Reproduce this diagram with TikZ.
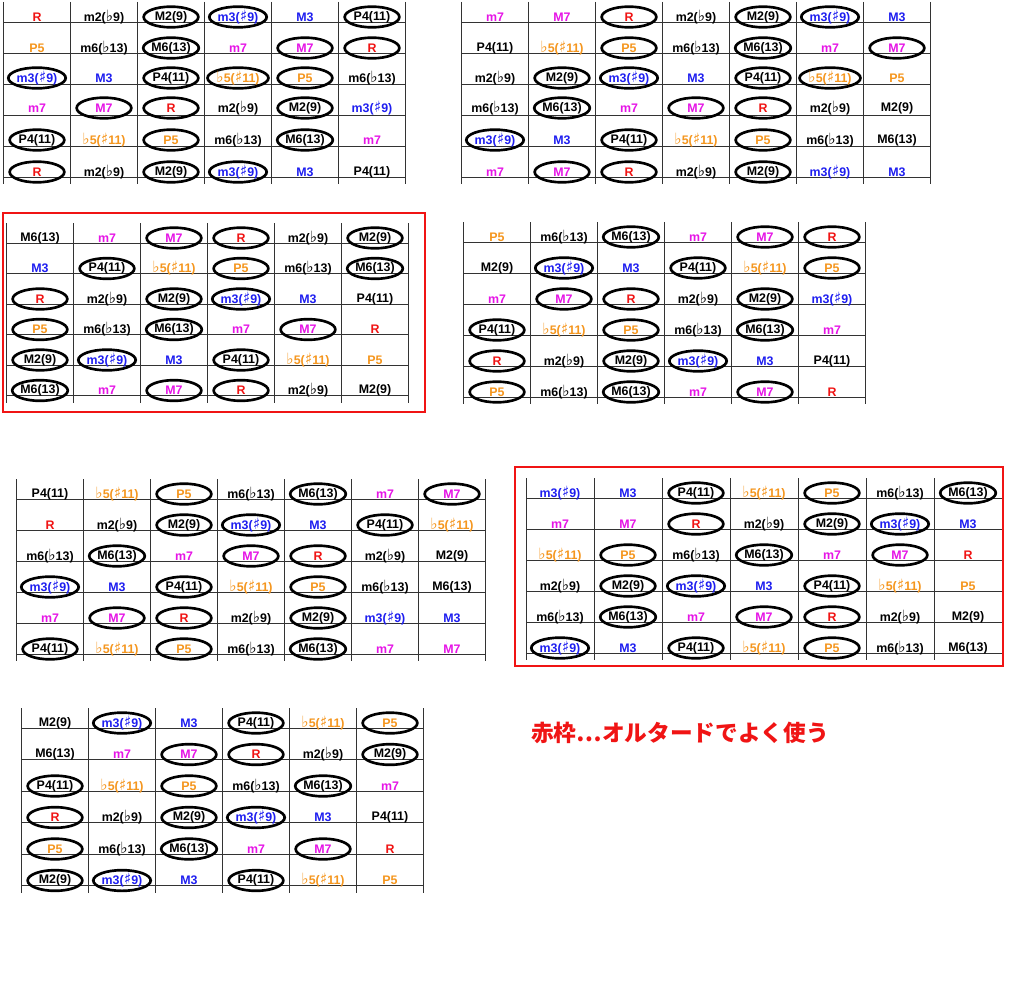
\documentclass[tikz,border=0pt]{standalone}
\usepackage{fontspec}
\setmainfont{Liberation Sans}
\newfontfamily\symf[Scale=1.25]{DejaVu Sans}
\newfontfamily\cjk{Noto Sans CJK JP}
\usetikzlibrary{shapes.geometric}
\newcommand\fl{{\symf ♭}}
\newcommand\sh{{\symf ♯}}
\newcommand\tmii{m2(\fl9)}
\newcommand\tMii{M2(9)}
\newcommand\tmiii{m3(\sh9)}
\newcommand\tMiii{M3}
\newcommand\tiv{P4(11)}
\newcommand\tbv{\fl5(\sh11)}
\newcommand\tv{P5}
\newcommand\tvi{m6(\fl13)}
\newcommand\tVI{M6(13)}
\newcommand\tvii{m7}
\newcommand\tVII{M7}
\definecolor{cR}{RGB}{240,20,20}
\definecolor{cB}{RGB}{30,30,240}
\definecolor{cO}{RGB}{245,150,30}
\definecolor{cM}{RGB}{230,20,230}
\tikzset{
 base/.style={font=\bfseries\fontsize{9.3}{10}\selectfont, inner sep=1pt},
 circ/.style={base, ellipse, draw=black, line width=2pt, minimum width=41pt, minimum height=15.5pt, inner sep=0pt},
 xr/.style={base,text=cR}, xk/.style={base,text=black}, xb/.style={base,text=cB}, xo/.style={base,text=cO}, xm/.style={base,text=cM},
 qr/.style={circ,text=cR}, qk/.style={circ,text=black}, qb/.style={circ,text=cB}, qo/.style={circ,text=cO}, qm/.style={circ,text=cM},
 gl/.style={draw=black!80, line width=0.5pt},
 redbox/.style={draw=cR, line width=2.2pt}
}
\newcommand\rowx[5]{\foreach[count=\i] \s/\t in {#5} {\node[\s] (#1-\i) at ({#3+(\i-1)*#4},#2) {\t};}}
\newcommand\glines[6]{% x0 dx n y0 dy top
 \foreach \k in {0,...,5} \draw[gl] ({#1-#2/2},{#4+\k*#5+5}) -- ({#1+(#3-0.5)*#2},{#4+\k*#5+5});
 \foreach \k in {0,...,#3} \draw[gl] ({#1+(\k-0.5)*#2},#6) -- ({#1+(\k-0.5)*#2},{#4+5*#5+12});}
\begin{document}
\begin{tikzpicture}[x=0.75pt,y=-0.75pt]
\useasboundingbox (0,0) rectangle (1024,988);
\fill[white] (0,0) rectangle (1024,988);
% G1
\glines{37}{67}{6}{17}{31}{2}
\rowx{a1}{17}{37}{67}{xr/R, xk/\tmii, qk/\tMii, qb/\tmiii, xb/\tMiii, qk/\tiv}
\rowx{a2}{48}{37}{67}{xo/\tv, xk/\tvi, qk/\tVI, xm/\tvii, qm/\tVII, qr/R}
\rowx{a3}{78}{37}{67}{qb/\tmiii, xb/\tMiii, qk/\tiv, qo/\tbv, qo/\tv, xk/\tvi}
\rowx{a4}{108}{37}{67}{xm/\tvii, qm/\tVII, qr/R, xk/\tmii, qk/\tMii, xb/\tmiii}
\rowx{a5}{140}{37}{67}{qk/\tiv, xo/\tbv, qo/\tv, xk/\tvi, qk/\tVI, xm/\tvii}
\rowx{a6}{172}{37}{67}{qr/R, xk/\tmii, qk/\tMii, qb/\tmiii, xb/\tMiii, xk/\tiv}
% G2
\glines{495}{67}{7}{17}{31}{2}
\rowx{b1}{17}{495}{67}{xm/\tvii, xm/\tVII, qr/R, xk/\tmii, qk/\tMii, qb/\tmiii, xb/\tMiii}
\rowx{b2}{48}{495}{67}{xk/\tiv, xo/\tbv, qo/\tv, xk/\tvi, qk/\tVI, xm/\tvii, qm/\tVII}
\rowx{b3}{78}{495}{67}{xk/\tmii, qk/\tMii, qb/\tmiii, xb/\tMiii, qk/\tiv, qo/\tbv, xo/\tv}
\rowx{b4}{108}{495}{67}{xk/\tvi, qk/\tVI, xm/\tvii, qm/\tVII, qr/R, xk/\tmii, xk/\tMii}
\rowx{b5}{140}{495}{67}{qb/\tmiii, xb/\tMiii, qk/\tiv, xo/\tbv, qo/\tv, xk/\tvi, xk/\tVI}
\rowx{b6}{172}{495}{67}{xm/\tvii, qm/\tVII, qr/R, xk/\tmii, qk/\tMii, xb/\tmiii, xb/\tMiii}
% G3
\glines{40}{67}{6}{238}{30.5}{223}
\rowx{c1}{238}{40}{67}{xk/\tVI, xm/\tvii, qm/\tVII, qr/R, xk/\tmii, qk/\tMii}
\rowx{c2}{268.5}{40}{67}{xb/\tMiii, qk/\tiv, xo/\tbv, qo/\tv, xk/\tvi, qk/\tVI}
\rowx{c3}{299}{40}{67}{qr/R, xk/\tmii, qk/\tMii, qb/\tmiii, xb/\tMiii, xk/\tiv}
\rowx{c4}{329.5}{40}{67}{qo/\tv, xk/\tvi, qk/\tVI, xm/\tvii, qm/\tVII, xr/R}
\rowx{c5}{360}{40}{67}{qk/\tMii, qb/\tmiii, xb/\tMiii, qk/\tiv, xo/\tbv, xo/\tv}
\rowx{c6}{390.5}{40}{67}{qk/\tVI, xm/\tvii, qm/\tVII, qr/R, xk/\tmii, xk/\tMii}
\draw[redbox] (3,213) rectangle (425,412);
% G4
\glines{497}{67}{6}{237}{31}{222}
\rowx{d1}{237}{497}{67}{xo/\tv, xk/\tvi, qk/\tVI, xm/\tvii, qm/\tVII, qr/R}
\rowx{d2}{268}{497}{67}{xk/\tMii, qb/\tmiii, xb/\tMiii, qk/\tiv, xo/\tbv, qo/\tv}
\rowx{d3}{299}{497}{67}{xm/\tvii, qm/\tVII, qr/R, xk/\tmii, qk/\tMii, xb/\tmiii}
\rowx{d4}{330}{497}{67}{qk/\tiv, xo/\tbv, qo/\tv, xk/\tvi, qk/\tVI, xm/\tvii}
\rowx{d5}{361}{497}{67}{qr/R, xk/\tmii, qk/\tMii, qb/\tmiii, xb/\tMiii, xk/\tiv}
\rowx{d6}{392}{497}{67}{qo/\tv, xk/\tvi, qk/\tVI, xm/\tvii, qm/\tVII, xr/R}
% G5
\glines{50}{67}{7}{494}{31}{479}
\rowx{e1}{494}{50}{67}{xk/\tiv, xo/\tbv, qo/\tv, xk/\tvi, qk/\tVI, xm/\tvii, qm/\tVII}
\rowx{e2}{525}{50}{67}{xr/R, xk/\tmii, qk/\tMii, qb/\tmiii, xb/\tMiii, qk/\tiv, xo/\tbv}
\rowx{e3}{556}{50}{67}{xk/\tvi, qk/\tVI, xm/\tvii, qm/\tVII, qr/R, xk/\tmii, xk/\tMii}
\rowx{e4}{587}{50}{67}{qb/\tmiii, xb/\tMiii, qk/\tiv, xo/\tbv, qo/\tv, xk/\tvi, xk/\tVI}
\rowx{e5}{618}{50}{67}{xm/\tvii, qm/\tVII, qr/R, xk/\tmii, qk/\tMii, xb/\tmiii, xb/\tMiii}
\rowx{e6}{649}{50}{67}{qk/\tiv, xo/\tbv, qo/\tv, xk/\tvi, qk/\tVI, xm/\tvii, xm/\tVII}
% G6
\glines{560}{68}{7}{493}{31}{478}
\rowx{f1}{493}{560}{68}{xb/\tmiii, xb/\tMiii, qk/\tiv, xo/\tbv, qo/\tv, xk/\tvi, qk/\tVI}
\rowx{f2}{524}{560}{68}{xm/\tvii, xm/\tVII, qr/R, xk/\tmii, qk/\tMii, qb/\tmiii, xb/\tMiii}
\rowx{f3}{555}{560}{68}{xo/\tbv, qo/\tv, xk/\tvi, qk/\tVI, xm/\tvii, qm/\tVII, xr/R}
\rowx{f4}{586}{560}{68}{xk/\tmii, qk/\tMii, qb/\tmiii, xb/\tMiii, qk/\tiv, xo/\tbv, xo/\tv}
\rowx{f5}{617}{560}{68}{xk/\tvi, qk/\tVI, xm/\tvii, qm/\tVII, qr/R, xk/\tmii, xk/\tMii}
\rowx{f6}{648}{560}{68}{qb/\tmiii, xb/\tMiii, qk/\tiv, xo/\tbv, qo/\tv, xk/\tvi, xk/\tVI}
\draw[redbox] (515,467) rectangle (1003,666);
% G7
\glines{55}{67}{6}{723}{31.5}{708}
\rowx{g1}{723}{55}{67}{xk/\tMii, qb/\tmiii, xb/\tMiii, qk/\tiv, xo/\tbv, qo/\tv}
\rowx{g2}{754.5}{55}{67}{xk/\tVI, xm/\tvii, qm/\tVII, qr/R, xk/\tmii, qk/\tMii}
\rowx{g3}{786}{55}{67}{qk/\tiv, xo/\tbv, qo/\tv, xk/\tvi, qk/\tVI, xm/\tvii}
\rowx{g4}{817.5}{55}{67}{qr/R, xk/\tmii, qk/\tMii, qb/\tmiii, xb/\tMiii, xk/\tiv}
\rowx{g5}{849}{55}{67}{qo/\tv, xk/\tvi, qk/\tVI, xm/\tvii, qm/\tVII, xr/R}
\rowx{g6}{880.5}{55}{67}{qk/\tMii, qb/\tmiii, xb/\tMiii, qk/\tiv, xo/\tbv, xo/\tv}
\node[text=cR, font=\cjk\bfseries\fontsize{17}{20}\selectfont] (note) at (680,733) {赤枠…オルタードでよく使う};
\end{tikzpicture}
\end{document}
